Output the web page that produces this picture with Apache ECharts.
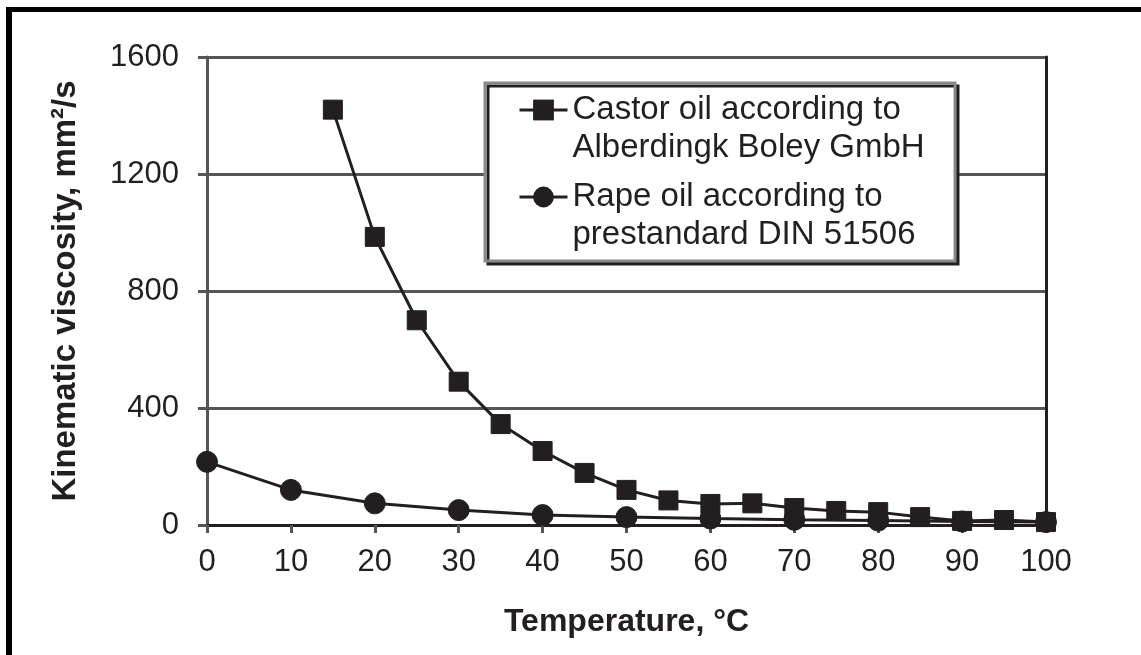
<!DOCTYPE html>
<html>
<head>
<meta charset="utf-8">
<script src="https://cdn.jsdelivr.net/npm/echarts@6/dist/echarts.min.js"></script>
<style>
html,body{margin:0;padding:0;background:#fff;}
#main{width:1141px;height:655px;}
</style>
</head>
<body>
<div id="main"></div>
<script>
// ---- data ----
var castorName = 'Castor oil according to\nAlberdingk Boley GmbH';
var rapeName = 'Rape oil according to\nprestandard DIN 51506';
var castorTemps = [15, 20, 25, 30, 35, 40, 45, 50, 55, 60, 65, 70, 75, 80, 85, 90, 95, 100];
var castorVisc  = [1420, 985, 700, 490, 345, 253, 178, 120, 84, 72, 74, 58, 48, 44, 27, 14, 17, 10];
var rapeTemps = [0, 10, 20, 30, 40, 50, 60, 70, 80, 90, 100];
var rapeVisc  = [216, 120, 74, 51, 34, 27, 22, 18, 15, 12, 10];
var xTicks = [0, 10, 20, 30, 40, 50, 60, 70, 80, 90, 100];
var yTicks = [0, 400, 800, 1200, 1600];
var xTitle = 'Temperature, \u00B0C';
var yTitle = 'Kinematic viscosity, mm\u00B2/s';

function pairs(xs, ys) { return xs.map(function (x, i) { return [x, ys[i]]; }); }

var ink = '#231f20';
var font = '"Liberation Sans", Arial, "DejaVu Sans", sans-serif';

var chart = echarts.init(document.getElementById('main'), null, {renderer: 'canvas'});

var legendCommon = {
  orient: 'vertical',
  left: 518,
  padding: 0,
  itemWidth: 48,
  itemHeight: 26,
  itemGap: 0,
  selectedMode: false,
  formatter: function (name) { return '\n' + name; },
  lineStyle: {width: 3, color: ink},
  textStyle: {
    color: ink,
    fontFamily: font,
    fontSize: 33,
    lineHeight: 38
  }
};

var option = {
  animation: false,
  backgroundColor: '#fff',
  textStyle: {fontFamily: font},
  grid: {left: 207, right: 95, top: 57, bottom: 130, containLabel: false},
  graphic: [
    {type: 'rect', z: 100, silent: true, shape: {x: 6, y: 7, width: 1135, height: 5}, style: {fill: '#000'}},
    {type: 'rect', z: 100, silent: true, shape: {x: 6, y: 7, width: 6, height: 648}, style: {fill: '#000'}},
    {type: 'rect', z: 3, silent: true,
      shape: {x: 485, y: 83, width: 470, height: 178},
      style: {fill: '#fff', stroke: '#8a8a8a', lineWidth: 3,
        shadowColor: ink, shadowOffsetX: 3, shadowOffsetY: 3, shadowBlur: 0}}
  ],
  legend: [
    Object.assign({}, legendCommon, {top: 53, data: [castorName], z: 10}),
    Object.assign({}, legendCommon, {top: 140, data: [rapeName], z: 10})
  ],
  xAxis: {
    type: 'value',
    min: xTicks[0],
    max: xTicks[xTicks.length - 1],
    interval: xTicks[1] - xTicks[0],
    name: xTitle,
    nameLocation: 'middle',
    nameGap: 81,
    nameTextStyle: {color: ink, fontFamily: font, fontSize: 32, fontWeight: 'bold'},
    axisLine: {show: true, onZero: false, lineStyle: {color: ink, width: 3}},
    axisTick: {show: true, inside: false, length: 8, lineStyle: {color: '#555', width: 3}},
    axisLabel: {color: ink, fontFamily: font, fontSize: 31, margin: 22},
    splitLine: {show: false}
  },
  yAxis: [
    {
      type: 'value',
      min: yTicks[0],
      max: yTicks[yTicks.length - 1],
      interval: yTicks[1] - yTicks[0],
      name: yTitle,
      nameLocation: 'middle',
      nameGap: 125,
      nameTextStyle: {color: ink, fontFamily: font, fontSize: 33, fontWeight: 'bold'},
      axisLine: {show: true, lineStyle: {color: '#555', width: 3}},
      axisTick: {show: true, inside: false, length: 9, lineStyle: {color: '#555', width: 3}},
      axisLabel: {color: ink, fontFamily: font, fontSize: 31, margin: 28,
        formatter: function (v) { return String(v); }},
      splitLine: {show: true, lineStyle: {color: '#555', width: 3}}
    },
    {
      type: 'value',
      position: 'right',
      min: yTicks[0],
      max: yTicks[yTicks.length - 1],
      interval: yTicks[1] - yTicks[0],
      axisLine: {show: true, lineStyle: {color: ink, width: 3}},
      axisTick: {show: false},
      axisLabel: {show: false},
      splitLine: {show: false}
    }
  ],
  series: [
    {
      name: castorName,
      type: 'line',
      data: pairs(castorTemps, castorVisc),
      symbol: 'rect',
      symbolSize: 19,
      z: 5,
      lineStyle: {color: ink, width: 3},
      itemStyle: {color: ink, borderColor: ink}
    },
    {
      name: rapeName,
      type: 'line',
      data: pairs(rapeTemps, rapeVisc),
      symbol: 'circle',
      symbolSize: 21,
      z: 4,
      lineStyle: {color: ink, width: 3},
      itemStyle: {color: ink, borderColor: ink}
    }
  ]
};
chart.setOption(option);
</script>
</body>
</html>
